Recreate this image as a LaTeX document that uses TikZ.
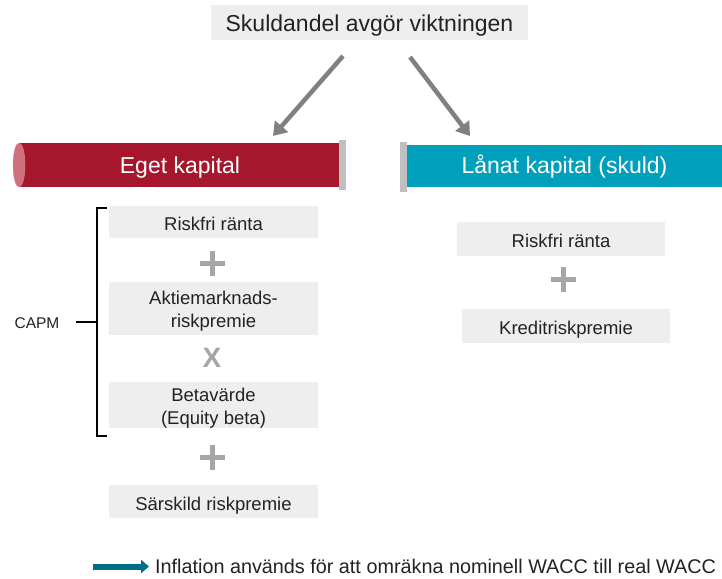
\documentclass[tikz,border=0pt]{standalone}
\usepackage{fontspec}
\setmainfont{Liberation Sans}
\usetikzlibrary{arrows.meta}
\definecolor{boxgray}{HTML}{EEEEEE}
\definecolor{txt}{HTML}{222222}
\definecolor{eqred}{HTML}{A6172D}
\definecolor{eqpink}{HTML}{D0707F}
\definecolor{debtblue}{HTML}{00A0BD}
\definecolor{barGray}{HTML}{BFBFBF}
\definecolor{arrGray}{HTML}{808080}
\definecolor{opGray}{HTML}{A6A6A6}
\definecolor{tealarr}{HTML}{006E87}
\begin{document}
\begin{tikzpicture}[x=1pt,y=-1pt,
  gbox/.style={fill=boxgray, inner sep=0pt, align=center, text=txt, minimum width=209pt,
    font=\fontsize{18.5}{22.5}\selectfont, text height=17.2pt, text depth=0pt},
  mbox/.style={fill=boxgray, inner sep=0pt, minimum width=209pt},
  mtext/.style={inner sep=0pt, align=center, text=txt, font=\fontsize{18.5}{22.7}\selectfont},
  cyl/.style={inner sep=0pt, text=white, minimum height=44pt, font=\fontsize{23}{27}\selectfont, text depth=0pt},
  garrow/.style={draw=arrGray, line width=4.5pt, -{Triangle[length=13pt,width=17pt]}},
  opline/.style={draw=opGray, line width=5pt},
  opx/.style={text=opGray, font=\fontsize{28}{30}\selectfont\bfseries, inner sep=0pt},
  brk/.style={draw=black, line width=1.5pt},
  endbar/.style={fill=barGray, draw=none},
]
\useasboundingbox (0,0) rectangle (722,578);

% title
\node[fill=boxgray, minimum width=317pt, minimum height=35pt, inner sep=0pt, text=txt,
  font=\fontsize{23}{27}\selectfont, text height=18.4pt, text depth=0pt] (title) at (369.5,22.5) {Skuldandel avgör viktningen};

% arrows
\coordinate (aLs) at (343,56);
\coordinate (aLe) at (273,136);
\coordinate (aRs) at (410,57);
\coordinate (aRe) at (470,136);
\draw[garrow] (aLs) -- (aLe);
\draw[garrow] (aRs) -- (aRe);

% equity cylinder
\node[cyl, fill=eqred, minimum width=322pt, text height=16.5pt] (eq) at (180,165) {Eget kapital};
\draw[fill=eqpink, draw=eqpink!80!white] (19,165) ellipse [x radius=6, y radius=22];
\path[endbar] (339,140) rectangle (346,190);

% debt cylinder
\node[cyl, fill=debtblue, minimum width=315pt, minimum height=42pt, text height=14.5pt] (debt) at (564.5,166) {Lånat kapital (skuld)};
\path[endbar] (400,142) rectangle (407,192);

% left stack
\node[gbox, minimum height=32pt] (lr) at (213.5,222) {Riskfri ränta};
\coordinate (p1) at (212,263);
\draw[opline] ([xshift=-12.5pt]p1) -- ([xshift=12.5pt]p1);
\draw[opline] ([yshift=-12.5pt]p1) -- ([yshift=12.5pt]p1);
\node[mbox, minimum height=53pt] (amr) at (213.5,308.5) {};
\node[mtext] (amrt) at ([yshift=-2.5pt]amr.center) {Aktiemarknads-\\riskpremie};
\node[opx] (x1) at (212,358) {X};
\node[mbox, minimum height=46pt] (beta) at (213.5,405) {};
\node[mtext] (betat) at ([yshift=-3pt]beta.center) {Betavärde\\(Equity beta)};
\coordinate (p2) at (212,457);
\draw[opline] ([xshift=-12.5pt]p2) -- ([xshift=12.5pt]p2);
\draw[opline] ([yshift=-12.5pt]p2) -- ([yshift=12.5pt]p2);
\node[gbox, minimum height=33pt] (sr) at (213.5,501.5) {Särskild riskpremie};

% bracket
\coordinate (bt) at (107,208);
\coordinate (bb) at (107,436);
\draw[brk] (bt) -- (97,208) -- (97,436) -- (bb);
\node[text=txt, font=\fontsize{15.5}{18}\selectfont, inner sep=0pt] (capm) at (37,323) {CAPM};
\coordinate (bm) at (97,322);
\draw[brk] (76,322) -- (bm);

% right stack
\node[gbox, minimum width=208pt, minimum height=34pt] (rr) at (561,239) {Riskfri ränta};
\coordinate (p3) at (563,279);
\draw[opline] ([xshift=-12.5pt]p3) -- ([xshift=12.5pt]p3);
\draw[opline] ([yshift=-12.5pt]p3) -- ([yshift=12.5pt]p3);
\node[gbox, minimum width=208pt, minimum height=34pt] (kr) at (566,326) {Kreditriskpremie};

% legend
\node[anchor=west, text=txt, inner sep=0pt, font=\fontsize{19.8}{22}\selectfont] (leg) at (155,566.5) {Inflation används för att omräkna nominell WACC till real WACC};
\coordinate (ls) at (93,566.5);
\draw[draw=tealarr, line width=6pt, -{Triangle[length=8pt,width=13pt]}] (ls) -- ([xshift=-6pt]leg.west |- ls);
\end{tikzpicture}
\end{document}
